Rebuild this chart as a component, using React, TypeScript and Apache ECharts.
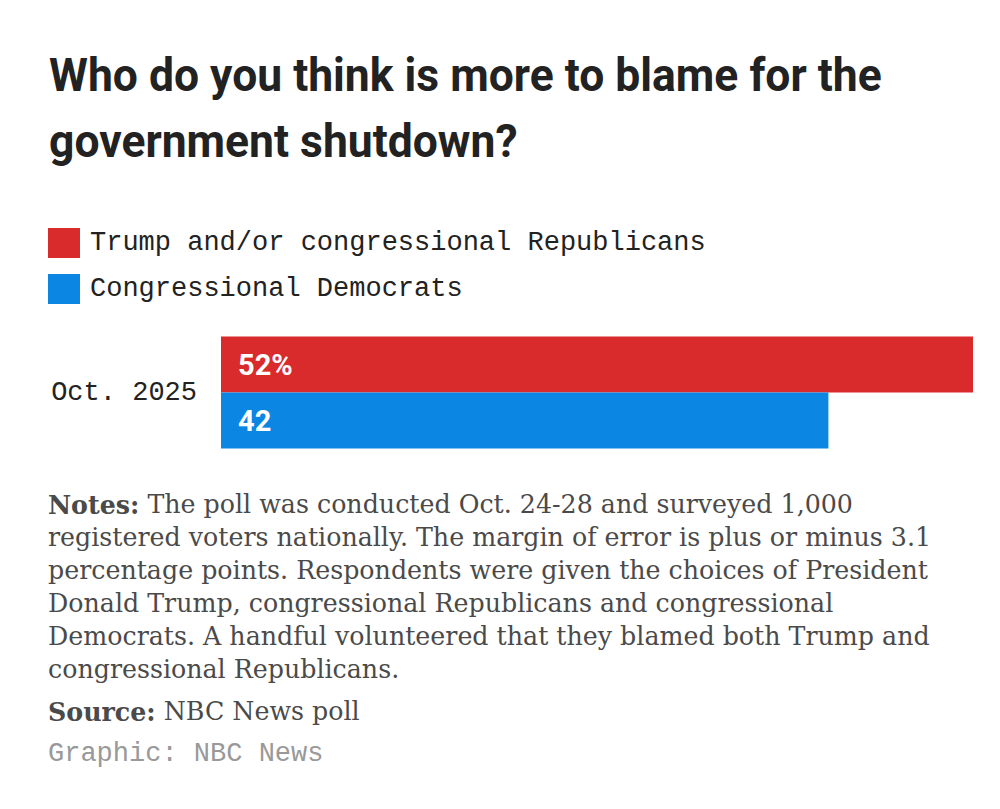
import React, { useEffect, useRef } from "react";
import * as echarts from "echarts";

const categories = ["Oct. 2025"];
const seriesNames = ["Trump and/or congressional Republicans", "Congressional Democrats"];
const republicans = [52];
const democrats = [42];
const colors = ["#d92a2c", "#0b86e2"];

const titleLines = ["Who do you think is more to blame for the", "government shutdown?"];
const notesLines = [
  "{b|Notes:} The poll was conducted Oct. 24-28 and surveyed 1,000",
  "registered voters nationally. The margin of error is plus or minus 3.1",
  "percentage points. Respondents were given the choices of President",
  "Donald Trump, congressional Republicans and congressional",
  "Democrats. A handful volunteered that they blamed both Trump and",
  "congressional Republicans.",
];
const sourceText = "{b|Source:} NBC News poll";
const creditText = "Graphic: NBC News";

const MONO = "'Liberation Mono', 'DejaVu Sans Mono', monospace";
const SERIF = "'DejaVu Serif', 'Liberation Serif', serif";
const TITLE_FONT = "bold 47px Roboto, 'Liberation Sans', sans-serif";
const NOTE_SIZE = 25.3;

function measure(text: string, font: string): number {
  const c = document.createElement("canvas");
  const ctx = c.getContext("2d");
  if (!ctx) return 1000;
  ctx.font = font;
  return ctx.measureText(text).width;
}

export default function App() {
  const ref = useRef<HTMLDivElement>(null);
  useEffect(() => {
    if (!ref.current) return;
    const chart = echarts.init(ref.current, null, { renderer: "svg" });
    const w = measure(titleLines[0], TITLE_FONT);
    const sx = w > 0 ? 833 / w : 0.8;
    const noteRich = {
      b: { fontWeight: "bold", fontFamily: SERIF, fontSize: NOTE_SIZE, lineHeight: 33, fill: "#4a4a4a" },
    };
    chart.setOption({
      animation: false,
      backgroundColor: "#ffffff",
      legend: {
        orient: "vertical",
        left: 48,
        top: 228,
        padding: 0,
        itemWidth: 32,
        itemHeight: 30,
        itemGap: 16,
        icon: "rect",
        data: seriesNames,
        selectedMode: false,
        textStyle: {
          fontFamily: MONO,
          fontSize: 27,
          color: "#222222",
          padding: [2, 0, 0, 5],
        },
      },
      grid: { left: 221, top: 336, width: 752, height: 113, containLabel: false },
      xAxis: { type: "value", min: 0, max: 52, show: false },
      yAxis: {
        type: "category",
        data: categories,
        inverse: true,
        axisLine: { show: false },
        axisTick: { show: false },
        axisLabel: { fontFamily: MONO, fontSize: 27, color: "#222222", margin: 24 },
      },
      series: [
        {
          name: seriesNames[0],
          type: "bar",
          data: republicans,
          barWidth: 56,
          barGap: "0%",
          itemStyle: { color: colors[0] },
          label: {
            show: true,
            position: "insideLeft",
            distance: 17,
            formatter: "{c}%",
            color: "#ffffff",
            fontFamily: "Roboto, sans-serif",
            fontWeight: "bold",
            fontSize: 29,
          },
        },
        {
          name: seriesNames[1],
          type: "bar",
          data: democrats,
          barWidth: 56,
          barGap: "0%",
          itemStyle: { color: colors[1] },
          label: {
            show: true,
            position: "insideLeft",
            distance: 17,
            formatter: "{c}",
            color: "#ffffff",
            fontFamily: "Roboto, sans-serif",
            fontWeight: "bold",
            fontSize: 29,
          },
        },
      ],
      graphic: [
        {
          type: "text",
          x: 49,
          y: 52,
          scaleX: sx,
          style: {
            text: titleLines[0],
            x: 0,
            y: 0,
            font: TITLE_FONT,
            fill: "#222222",
          },
        },
        {
          type: "text",
          x: 49,
          y: 118,
          scaleX: sx,
          style: {
            text: titleLines[1],
            x: 0,
            y: 0,
            font: TITLE_FONT,
            fill: "#222222",
          },
        },
        {
          type: "text",
          left: 48,
          top: 488,
          style: {
            text: notesLines.join("\n"),
            fill: "#4a4a4a",
            font: `${NOTE_SIZE}px ${SERIF}`,
            lineHeight: 33,
            rich: noteRich,
          },
        },
        {
          type: "text",
          left: 48,
          top: 695,
          style: {
            text: sourceText,
            fill: "#4a4a4a",
            font: `${NOTE_SIZE}px ${SERIF}`,
            lineHeight: 33,
            rich: noteRich,
          },
        },
        {
          type: "text",
          left: 48,
          top: 740,
          style: {
            text: creditText,
            fill: "#999999",
            font: `27px ${MONO}`,
          },
        },
      ],
    });
    return () => chart.dispose();
  }, []);
  return (
    <div
      ref={ref}
      style={{ position: "fixed", left: 0, top: 0, width: 1000, height: 809 }}
    />
  );
}
